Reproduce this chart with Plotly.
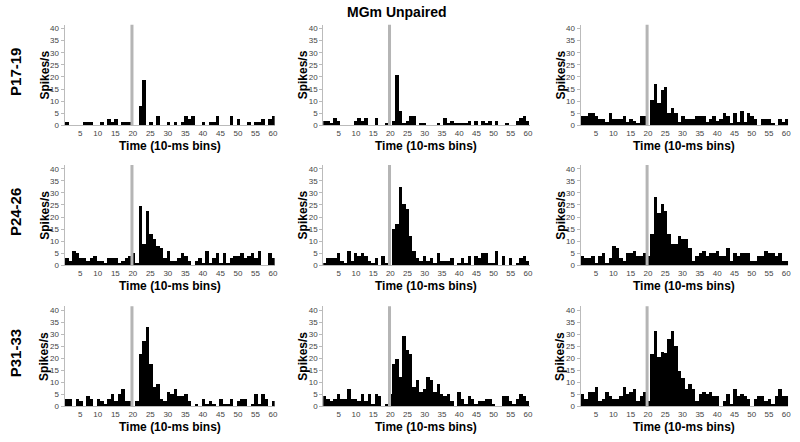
import plotly.graph_objects as go

bins = list(range(1, 61))
x_tick_vals = [5, 10, 15, 20, 25, 30, 35, 40, 45, 50, 55, 60]
y_tick_vals = [0, 5, 10, 15, 20, 25, 30, 35, 40]
row_labels = ["P17-19", "P24-26", "P31-33"]
title_text = "MGm Unpaired"
x_title = "Time (10-ms bins)"
y_title = "Spikes/s"
stim_bin = 19.75

p17_a = [1.3,0,0,0,0,1.3,1.3,1.3,0,0, 1.3,0,2.7,1.3,2.7,0,1.3,1.3,1.3,0,
         0,8,18.7,0,1.3,0,4,0,0,1.3, 0,1.3,0,1.3,4,2.7,4,0,0,1.3,
         0,1.3,1.3,4,0,0,0,4,0,2.7, 0,0,1.3,0,1.3,1.3,2.7,0,2.7,4]
p17_b = [2,2,1,3,2,0,0,0,0,2, 3,2,3,0,0,3,0,0,1,0,
         2,21,6,1,2,4,4,0,1,1, 0,0,0,1,0,3,1,2,1,1,
         1,1,2,0,2,0,2,1,2,0, 2,0,0,1,0,0,2,3,4,2]
p17_c = [4,4,5.3,5.3,4,2.7,2.7,1.3,5.3,2.7, 2.7,2.7,4,1.3,2.7,2,1,4,4,0,
         10.7,17,9.3,14.7,16,5.3,7.3,5.3,1.3,4, 2.7,2.7,2.7,4,4,4,1.3,2.7,4,2,
         2.7,5.3,4,1,5.3,1.3,6.2,1.3,5.3,4, 2.7,0,2.7,2.7,2.7,1,0,2.7,1.3,2.7]
p24_a = [3,2,6,5,3,3,2,3,4,2, 2,1,3,3,3,1,2,3,4,5,
         1,24.5,9,22.5,13,11,8,7,3,6, 2,2,3,5,4,2,0,2,3,1,
         6,1,3,5,1,5,1,3,4,4, 5,3,4,5,3,6,0,0,5,3]
p24_b = [1,3,3,3,5,2,1,6,2,5, 4,5,4,2,1,3,0,4,1,0,
         15,17,32.5,25.5,23.5,12,6,3,2,4, 2,3,1,5,2,2,2,3,0,1,
         3,1,4,0,4,3,5,5,1,1, 6,0,4,0,3,0,1,3,4,2]
p24_c = [4,3,3,4,1,4,5,1,3,8, 7,3,2,5,5,6,4,4,5,4,
         13,28.5,21.5,25.5,22.5,13,9,9,12,11, 11,7,2,4,5,6,4,5,5,6,
         4,4,7,2,5,4,5,5,5,2, 2,4,4,6,5,5,4,5,2,2]
p31_a = [3,3,0,3,2,0,4,3,0,3, 2,1,3,5,2,5,7,2,2,0,
         2,21.5,27,33,17.5,8,9,3,2,6, 5,7,4,4,5,2,0,1,0,3,
         1,2,1,0,3,1,1,3,0,2, 3,3,0,1,5,1,5,3,0,2]
p31_b = [4,3,2,3,5,3,3,7,3,3, 2,5,2,5,1,5,4,0,1,5,
         17.5,19.5,12,29,23.5,21.5,8,11,6,7, 12,11,6,9,5,4,5,2,0,6,
         3,1,4,3,1,2,2,3,3,1, 0,0,4,4,2,1,3,5,4,2]
p31_c = [5,3,6,6,8,2,3,6,4,3, 3,4,8,5,6,7,2,4,6,2,
         21.5,31,20.5,22.5,22,28,31,25,14.5,11.5, 7,9,7,2,5,6,5,6,4,4,
         0,2,5,1,7,4,5,4,3,0, 3,4,4,2,3,1,4,7,4,4]

panels = [[p17_a, p17_b, p17_c], [p24_a, p24_b, p24_c], [p31_a, p31_b, p31_c]]

W, H = 800, 442
col_px = [(64.8, 275.7), (324.5, 531.7), (582.7, 791.0)]
row_px = [(25.0, 126.7), (166.8, 268.3), (309.8, 411.0)]
y_max = 41.6


def px(v):
    return v / W


def py(v):
    return 1 - v / H


FONT = "Liberation Sans, Arial, sans-serif"
fig = go.Figure()
layout = dict(width=W, height=H, margin=dict(l=0, r=0, t=0, b=0),
              paper_bgcolor="white", plot_bgcolor="white",
              showlegend=False, bargap=0, font=dict(family=FONT, color="#000"))
annotations = []
shapes = []
k = 0
for r in range(3):
    for c in range(3):
        k += 1
        xa = "x" if k == 1 else f"x{k}"
        ya = "y" if k == 1 else f"y{k}"
        xkey = "xaxis" if k == 1 else f"xaxis{k}"
        ykey = "yaxis" if k == 1 else f"yaxis{k}"
        x0, x1 = col_px[c]
        yt, yb = row_px[r]
        fig.add_trace(go.Bar(x=bins, y=panels[r][c], xaxis=xa, yaxis=ya,
                             marker=dict(color="black", line=dict(width=0)),
                             width=1.0))
        layout[xkey] = dict(domain=[px(x0), px(x1)], anchor=ya, range=[0.5, 60.5],
                            tickmode="array", tickvals=x_tick_vals,
                            ticktext=[str(v) for v in x_tick_vals],
                            tickfont=dict(size=8, color="#444"), showgrid=False,
                            showline=True, linecolor="#bbb", linewidth=1,
                            ticks="", ticklen=0, zeroline=False)
        layout[ykey] = dict(domain=[py(yb), py(yt)], anchor=xa, range=[0, y_max],
                            tickmode="array", tickvals=y_tick_vals,
                            tickfont=dict(size=8, color="#444"), showgrid=False,
                            showline=True, linecolor="#bbb", linewidth=1,
                            ticks="outside", ticklen=3, tickcolor="#bbb",
                            zeroline=False)
        shapes.append(dict(type="line", xref=xa, yref=f"{ya} domain",
                           x0=stim_bin, x1=stim_bin, y0=0, y1=1,
                           line=dict(color="#b5b5b5", width=3)))
        annotations.append(dict(text=f"<b>{x_title}</b>", xref="paper", yref="paper",
                                x=px((x0 + x1) / 2), y=py(yb + 21),
                                showarrow=False, font=dict(size=12),
                                xanchor="center", yanchor="middle"))
        annotations.append(dict(text=f"<b>{y_title}</b>", xref="paper", yref="paper",
                                x=px(x0 - 20), y=py((yt + yb) / 2),
                                showarrow=False, font=dict(size=12), textangle=-90,
                                xanchor="center", yanchor="middle"))

for r in range(3):
    yt, yb = row_px[r]
    annotations.append(dict(text=f"<b>{row_labels[r]}</b>", xref="paper", yref="paper",
                            x=px(15), y=py((yt + yb) / 2 - 3), showarrow=False,
                            font=dict(size=15), textangle=-90,
                            xanchor="center", yanchor="middle"))
annotations.append(dict(text=f"<b>{title_text}</b>", xref="paper", yref="paper",
                        x=px(398), y=py(12), showarrow=False, font=dict(size=14),
                        xanchor="center", yanchor="middle"))
layout["annotations"] = annotations
layout["shapes"] = shapes
fig.update_layout(**layout)
fig.write_html("out.html", config={"displayModeBar": False},
               post_script="document.body.style.margin='0';document.body.style.overflow='hidden';")
